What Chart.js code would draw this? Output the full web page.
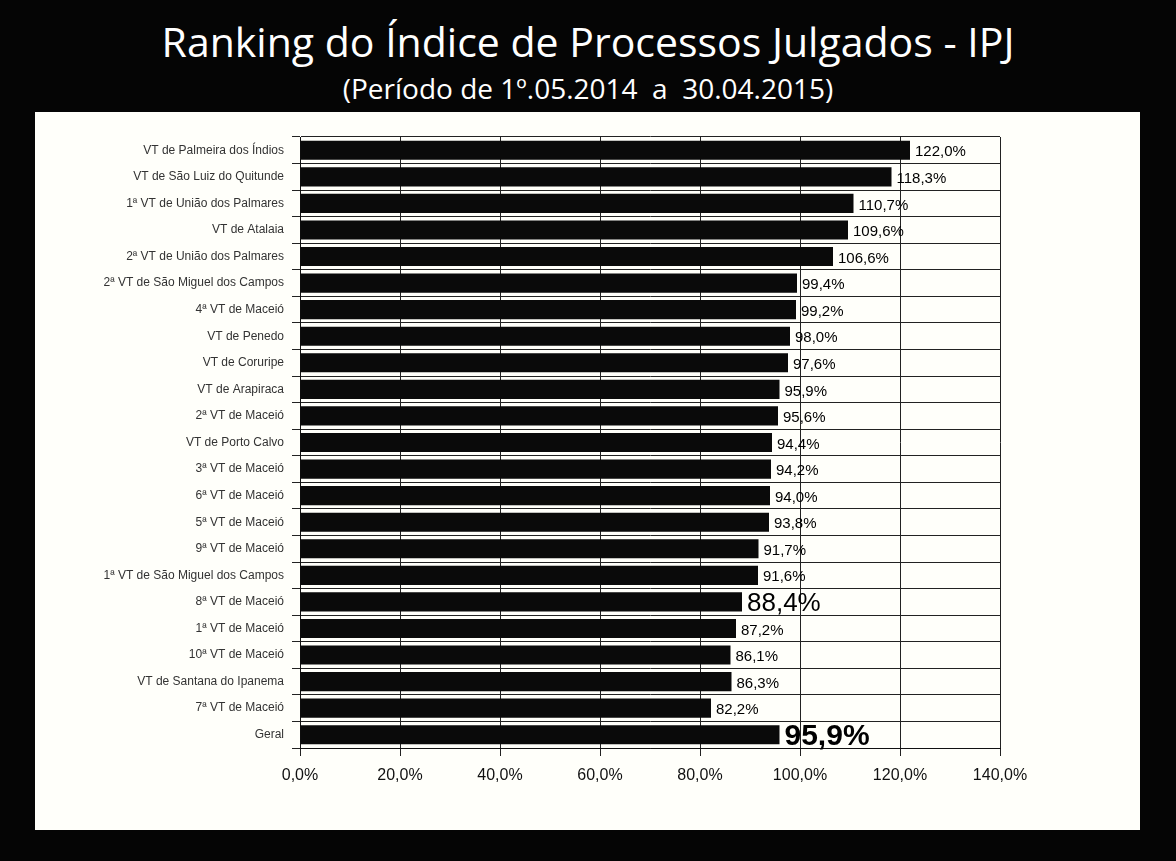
<!DOCTYPE html>
<html lang="pt">
<head>
    <meta charset="UTF-8">
    <title>Ranking IPJ</title>
    <script src="https://cdn.jsdelivr.net/npm/chart.js"></script>
    <style>
        html, body {
            margin: 0;
            padding: 0;
            background: #fff;
        }
        .frame {
            position: relative;
            width: 1176px;
            height: 861px;
            background: #050505;
        }
        .title {
            position: absolute;
            left: 0;
            top: 16px;
            width: 1176px;
            text-align: center;
            color: #fff;
            font-family: "Open Sans", "Liberation Sans", sans-serif;
            font-size: 41px;
            line-height: 50px;
        }
        .subtitle {
            position: absolute;
            left: 0;
            top: 70px;
            width: 1176px;
            text-align: center;
            color: #fff;
            font-family: "Open Sans", "Liberation Sans", sans-serif;
            font-size: 28px;
            line-height: 36px;
        }
        .chart-box {
            position: absolute;
            left: 35px;
            top: 112px;
            width: 1105px;
            height: 718px;
            background: #fffffa;
        }
    </style>
</head>
<body>
    <div class="frame">
        <div class="title">Ranking do Índice de Processos Julgados - IPJ</div>
        <div class="subtitle">(Período de 1º.05.2014&nbsp; a&nbsp; 30.04.2015)</div>
        <div class="chart-box">
            <canvas id="ipjChart"></canvas>
        </div>
    </div>

    <script>
        const varas = [
            'VT de Palmeira dos Índios',
            'VT de São Luiz do Quitunde',
            '1ª VT de União dos Palmares',
            'VT de Atalaia',
            '2ª VT de União dos Palmares',
            '2ª VT de São Miguel dos Campos',
            '4ª VT de Maceió',
            'VT de Penedo',
            'VT de Coruripe',
            'VT de Arapiraca',
            '2ª VT de Maceió',
            'VT de Porto Calvo',
            '3ª VT de Maceió',
            '6ª VT de Maceió',
            '5ª VT de Maceió',
            '9ª VT de Maceió',
            '1ª VT de São Miguel dos Campos',
            '8ª VT de Maceió',
            '1ª VT de Maceió',
            '10ª VT de Maceió',
            'VT de Santana do Ipanema',
            '7ª VT de Maceió',
            'Geral'
        ];
        const ipj = [122.0, 118.3, 110.7, 109.6, 106.6, 99.4, 99.2, 98.0, 97.6, 95.9, 95.6, 94.4,
                     94.2, 94.0, 93.8, 91.7, 91.6, 88.4, 87.2, 86.1, 86.3, 82.2, 95.9];
        // rows whose value label is printed larger
        const destaque = ['8ª VT de Maceió', 'Geral'];

        const fmt = v => v.toFixed(1).replace('.', ',') + '%';

        const valueLabels = {
            id: 'valueLabels',
            afterDatasetsDraw(chart) {
                const ctx = chart.ctx;
                const meta = chart.getDatasetMeta(0);
                ctx.save();
                ctx.fillStyle = '#000';
                ctx.textBaseline = 'middle';
                meta.data.forEach((bar, i) => {
                    const name = varas[i];
                    if (name === 'Geral') {
                        ctx.font = 'bold 30px "Liberation Sans", Arial, sans-serif';
                    } else if (destaque.includes(name)) {
                        ctx.font = '26px "Liberation Sans", Arial, sans-serif';
                    } else {
                        ctx.font = '15px "Liberation Sans", Arial, sans-serif';
                    }
                    ctx.fillText(fmt(ipj[i]), bar.x + 5, bar.y + 2);
                });
                ctx.restore();
            }
        };

        new Chart(document.getElementById('ipjChart'), {
            type: 'bar',
            data: {
                labels: varas,
                datasets: [{
                    data: ipj,
                    backgroundColor: '#0a0a0a',
                    borderWidth: 0,
                    barPercentage: 0.72,
                    categoryPercentage: 1
                }]
            },
            options: {
                indexAxis: 'y',
                responsive: true,
                maintainAspectRatio: false,
                animation: false,
                layout: {
                    padding: { top: 25, right: 140, bottom: 0, left: 0 }
                },
                plugins: {
                    legend: { display: false },
                    tooltip: { enabled: false }
                },
                scales: {
                    x: {
                        min: 0,
                        max: 140,
                        ticks: {
                            stepSize: 20,
                            color: '#111',
                            padding: 10,
                            font: { family: '"Liberation Sans", Arial', size: 16 },
                            callback: v => fmt(v)
                        },
                        grid: { color: '#222', lineWidth: 1 },
                        border: { color: '#111' },
                        afterFit: s => { s.height = 82; }
                    },
                    y: {
                        ticks: {
                            color: '#333',
                            padding: 8,
                            font: { family: '"Liberation Sans", Arial', size: 12 }
                        },
                        grid: { color: '#222', lineWidth: 1, offset: true },
                        border: { color: '#111' },
                        afterFit: s => { s.width = 265; }
                    }
                }
            },
            plugins: [valueLabels]
        });
    </script>
</body>
</html>
